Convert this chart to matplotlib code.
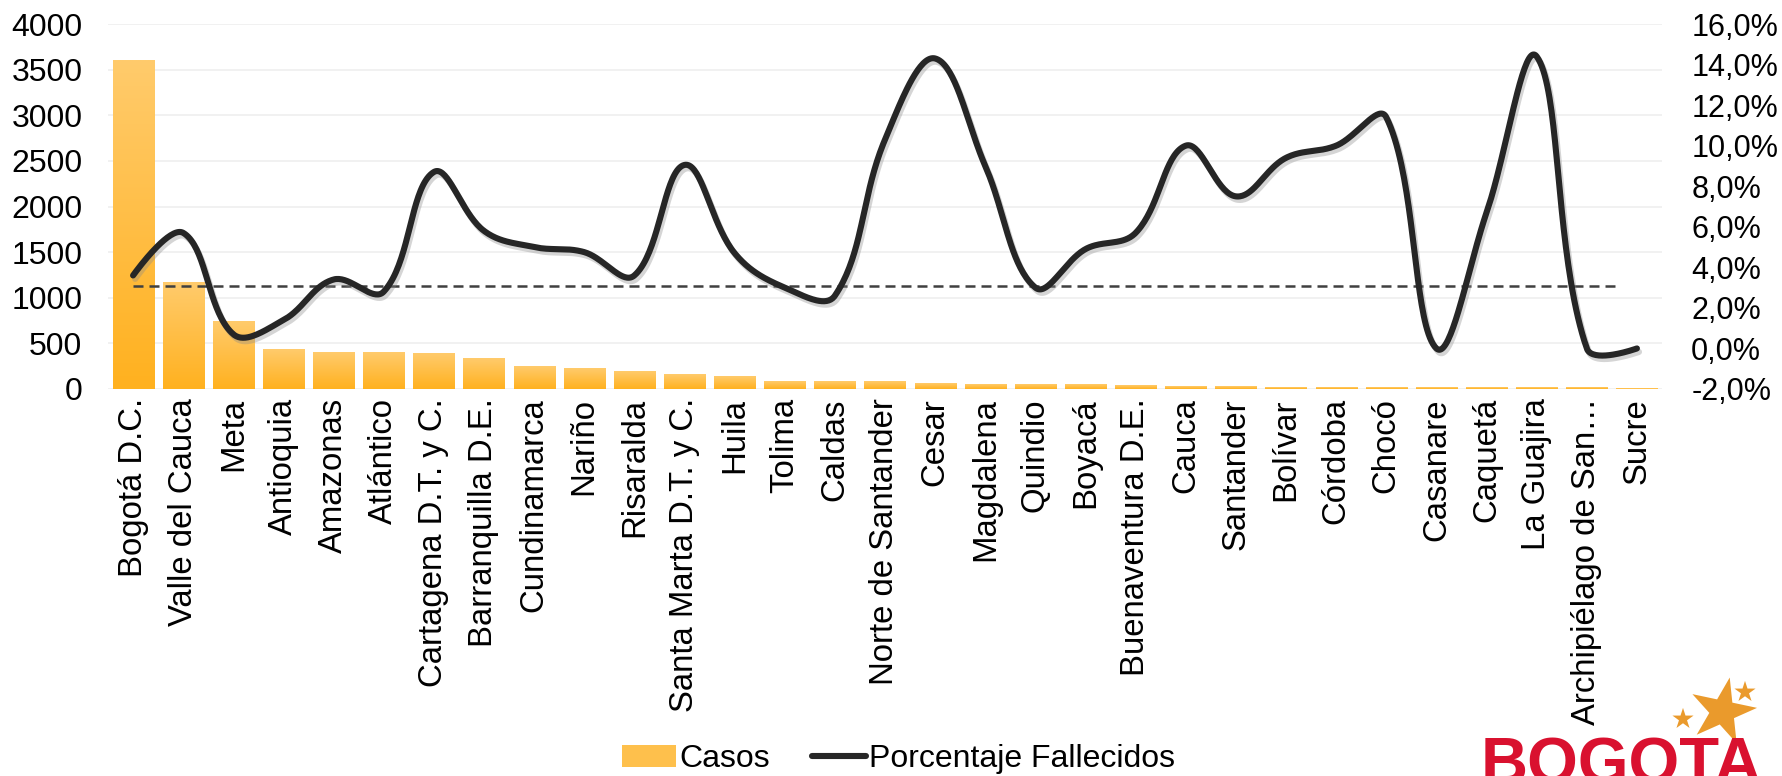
import numpy as np
import matplotlib
matplotlib.use("Agg")
import matplotlib.pyplot as plt
from matplotlib.colors import LinearSegmentedColormap
from matplotlib.patches import Patch
from matplotlib.lines import Line2D
from matplotlib.markers import MarkerStyle
import matplotlib.patheffects as pe

plt.rcParams['font.family'] = ['Liberation Sans', 'DejaVu Sans']

categories = ["Bogotá D.C.", "Valle del Cauca", "Meta", "Antioquia", "Amazonas",
              "Atlántico", "Cartagena D.T. y C.", "Barranquilla D.E.", "Cundinamarca",
              "Nariño", "Risaralda", "Santa Marta D.T. y C.", "Huila", "Tolima", "Caldas",
              "Norte de Santander", "Cesar", "Magdalena", "Quindio", "Boyacá",
              "Buenaventura D.E.", "Cauca", "Santander", "Bolívar", "Córdoba", "Chocó",
              "Casanare", "Caquetá", "La Guajira", "Archipiélago de San…", "Sucre"]

casos = [3600, 1165, 745, 438, 405, 405, 384, 329, 252, 230, 197, 164, 142, 80, 78, 78,
         55, 46, 44, 44, 33, 25, 25, 15, 14, 14, 13, 12, 12, 11, 10]

porcentaje = [3.6, 5.7, 0.7, 1.4, 3.4, 2.8, 8.7, 5.8, 5.0, 4.75, 3.6, 9.05, 4.7, 3.0, 2.6,
              10.3, 14.3, 9.0, 3.0, 4.9, 5.7, 10.0, 7.5, 9.4, 10.0, 11.4, 0.0, 6.7, 14.4,
              0.0, 0.0]

promedio = 3.08  # dashed reference line (%)

left_ticks = list(range(0, 4001, 500))
right_ticks = list(range(-2, 17, 2))

W, H = 1783, 776
fig = plt.figure(figsize=(W / 100, H / 100), dpi=100)
ax = fig.add_axes([108 / W, 1 - 389 / H, (1662 - 108) / W, 365 / H])

n = len(categories)
x = np.arange(n)
bw = 0.82

cmap = LinearSegmentedColormap.from_list("bar", ["#FFB11F", "#FFCB6C"])
grad = np.linspace(0, 1, 256).reshape(-1, 1)
for xi, v in zip(x, casos):
    ax.imshow(grad, cmap=cmap, origin="lower", aspect="auto",
              extent=[xi - bw / 2, xi + bw / 2, 0, v], zorder=2, interpolation="bilinear")

ax.set_xlim(-0.5, n - 0.5)
ax.set_ylim(0, 4000)
ax.set_yticks(left_ticks)
ax.set_yticklabels([str(t) for t in left_ticks])
ax.grid(axis="y", color="#EFEFEF", linewidth=1.2, zorder=0)
ax.set_axisbelow(True)
ax.set_xticks(x)
ax.set_xticklabels(categories, rotation=90, ha="center", va="top")
ax.tick_params(axis="both", length=0, labelsize=23, colors="#000000")
ax.tick_params(axis="x", labelsize=23.7, pad=6.5)
ax.tick_params(axis="y", pad=18.5)
for s in ax.spines.values():
    s.set_visible(False)

ax2 = ax.twinx()
ax2.set_ylim(-2, 16)
ax2.set_yticks(right_ticks)
ax2.set_yticklabels([f"{t:.1f}".replace(".", ",") + "%" for t in right_ticks])
ax2.tick_params(axis="y", length=0, labelsize=22, pad=21)
for s in ax2.spines.values():
    s.set_visible(False)


def smooth_display(axis, xs, ys, per=40, s=0.38):
    """Excel-like smoothed line: chord-weighted Bezier computed in display space."""
    P = axis.transData.transform(np.column_stack([xs, ys]).astype(float))
    m = len(P)
    out = [P[0]]
    t = np.linspace(0, 1, per)[1:, None]

    def ctrl(i):
        if i == 0 or i == m - 1:
            return P[i], P[i]
        d = P[i + 1] - P[i - 1]
        lin = np.linalg.norm(P[i] - P[i - 1])
        lout = np.linalg.norm(P[i + 1] - P[i])
        tot = lin + lout
        return P[i] - d * s * lin / tot, P[i] + d * s * lout / tot

    for i in range(m - 1):
        c1 = ctrl(i)[1]
        c2 = ctrl(i + 1)[0]
        p1, p2 = P[i], P[i + 1]
        seg = ((1 - t) ** 3) * p1 + 3 * ((1 - t) ** 2) * t * c1 + 3 * (1 - t) * t ** 2 * c2 + t ** 3 * p2
        out.extend(seg)
    out = axis.transData.inverted().transform(np.array(out))
    return out[:, 0], out[:, 1]


sx, sy = smooth_display(ax2, x, porcentaje)
ax2.hlines(promedio, 0, 29.67, colors="#404040", linestyles=(0, (4, 2.4)), linewidth=1.8, zorder=3)
ax2.plot(sx, sy, color="#262626", linewidth=4.4, solid_capstyle="round", zorder=4,
         path_effects=[pe.SimpleLineShadow(offset=(1.5, -2.5), shadow_color="#888888", alpha=0.35),
                       pe.Normal()])

handles = [Patch(facecolor="#FEC04C", edgecolor="none"),
           Line2D([0], [0], color="#262626", linewidth=4.4, solid_capstyle="round")]
fig.legend(handles, ["Casos", "Porcentaje Fallecidos"], loc="center",
           bbox_to_anchor=(0.504, 0.022), ncol=2, frameon=False, fontsize=23,
           handlelength=1.7, handletextpad=0.1, columnspacing=1.3)

# logo
lax = fig.add_axes([0, 0, 1, 1], zorder=10)
lax.set_xlim(0, W)
lax.set_ylim(H, 0)
lax.axis("off")
lax.patch.set_alpha(0)
lax.text(1481, 737, "BOGOTA", color="#D9112F", fontsize=47, fontweight="bold",
         va="top", ha="left")
big = MarkerStyle("*")
big._transform = big.get_transform().rotate_deg(-12)
lax.scatter([1722], [711], s=[50 ** 2], marker=big, color="#EA9A2C", linewidths=0)
lax.scatter([1745, 1683], [692, 719], s=[16 ** 2, 16 ** 2], marker="*",
            color="#EA9A2C", linewidths=0)

fig.savefig("out.png", dpi=100)
